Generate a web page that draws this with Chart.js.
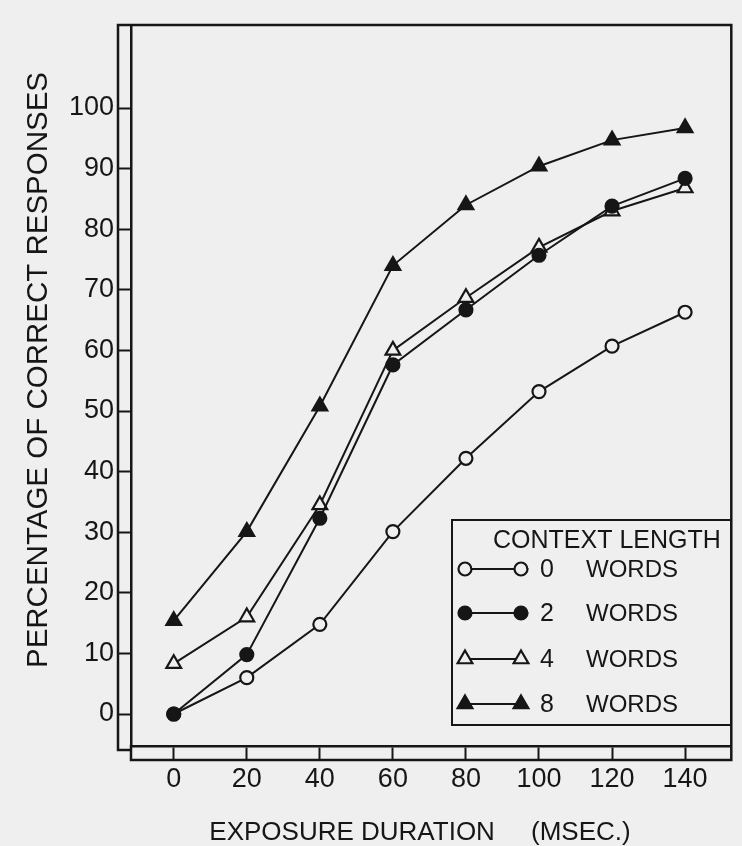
<!DOCTYPE html>
<html>
<head>
<meta charset="utf-8">
<script src="https://cdn.jsdelivr.net/npm/chart.js@4.4.1/dist/chart.umd.min.js"></script>
<style>
  html, body { margin: 0; padding: 0; background: #efefef; }
  canvas { display: block; }
</style>
</head>
<body>
<canvas id="c" width="742" height="846"></canvas>
<script>
// ---- data ----
const durations = [0, 20, 40, 60, 80, 100, 120, 140];          // exposure duration (msec)
const words0 = [0, 6.0, 14.8, 30.1, 42.2, 53.2, 60.7, 66.3];   // 0 words of context
const words2 = [0, 9.8, 32.3, 57.6, 66.7, 75.7, 83.8, 88.4];   // 2 words
const words4 = [8.3, 16.0, 34.5, 60.0, 68.7, 77.0, 83.0, 86.8]; // 4 words
const words8 = [15.4, 30.1, 50.8, 74.0, 84.0, 90.4, 94.7, 96.7]; // 8 words
const xTickValues = [0, 20, 40, 60, 80, 100, 120, 140];
const yTickValues = [0, 10, 20, 30, 40, 50, 60, 70, 80, 90, 100];
const seriesNumbers = ['0', '2', '4', '8'];
const seriesWord = 'WORDS';
const legendTitle = 'CONTEXT LENGTH';
const xTitle = 'EXPOSURE DURATION     (MSEC.)';
const yTitle = 'PERCENTAGE OF CORRECT RESPONSES';

// ---- styling ----
const INK = '#161616';
const BG = '#efefef';
const FONT = '"Liberation Sans", Arial, Helvetica, sans-serif';
const Y_TICK_LEN = 13;
const X_TICK_LEN = 14;

function pts(values) { return durations.map((d, i) => ({ x: d, y: values[i] })); }

function series(label, values, style, radius, filled, order) {
  return {
    label: label,
    data: pts(values),
    borderColor: INK,
    borderWidth: 2,
    pointStyle: style,
    pointRadius: radius,
    pointHoverRadius: radius,
    pointBorderWidth: 2.2,
    pointBorderColor: INK,
    pointBackgroundColor: filled ? INK : BG,
    tension: 0,
    fill: false,
    order: order,
    clip: false
  };
}

const datasets = [
  series(seriesNumbers[0] + ' ' + seriesWord, words0, 'circle', 6.5, false, 4),
  series(seriesNumbers[1] + ' ' + seriesWord, words2, 'circle', 6.5, true, 1),
  series(seriesNumbers[2] + ' ' + seriesWord, words4, 'triangle', 8.5, false, 3),
  series(seriesNumbers[3] + ' ' + seriesWord, words8, 'triangle', 8.5, true, 2)
];

function drawMarker(ctx, ds, x, y) {
  const r = ds.pointRadius;
  ctx.beginPath();
  if (ds.pointStyle === 'circle') {
    ctx.arc(x, y, r, 0, Math.PI * 2);
  } else {
    for (let k = 0; k < 3; k++) {
      const a = k * 2 * Math.PI / 3;
      const px = x + Math.sin(a) * r, py = y - Math.cos(a) * r;
      if (k === 0) ctx.moveTo(px, py); else ctx.lineTo(px, py);
    }
    ctx.closePath();
  }
  ctx.fillStyle = ds.pointBackgroundColor;
  ctx.fill();
  ctx.lineWidth = ds.pointBorderWidth;
  ctx.strokeStyle = ds.pointBorderColor;
  ctx.stroke();
}

const framePlugin = {
  id: 'frame',
  beforeDraw(chart) {
    const ctx = chart.ctx;
    ctx.save();
    ctx.fillStyle = BG;
    ctx.fillRect(0, 0, chart.width, chart.height);
    ctx.restore();
  },
  afterDraw(chart) {
    const ctx = chart.ctx;
    const a = chart.chartArea;
    const outer = a.left - Y_TICK_LEN;
    const lower = a.bottom + X_TICK_LEN;
    ctx.save();
    ctx.strokeStyle = INK;
    ctx.lineWidth = 2.5;
    ctx.lineCap = 'square';
    ctx.beginPath();
    // top and right border
    ctx.moveTo(outer, a.top); ctx.lineTo(a.right, a.top); ctx.lineTo(a.right, lower);
    // outer line of the left ruler
    ctx.moveTo(outer, a.top); ctx.lineTo(outer, a.bottom + 4); ctx.lineTo(a.left, a.bottom + 4);
    // lower line of the bottom ruler
    ctx.moveTo(a.left, a.bottom); ctx.lineTo(a.left, lower); ctx.lineTo(a.right, lower);
    ctx.stroke();

    // axis titles
    ctx.fillStyle = INK;
    ctx.textBaseline = 'middle';
    ctx.textAlign = 'center';
    ctx.font = '26px ' + FONT;
    ctx.fillText(xTitle, 420, 833);
    ctx.save();
    ctx.translate(39, 370);
    ctx.rotate(-Math.PI / 2);
    ctx.font = '29.5px ' + FONT;
    ctx.fillText(yTitle, 0, 0);
    ctx.restore();

    // legend
    const box = { l: 452, t: 520, r: 731, b: 725 };
    ctx.lineWidth = 2;
    ctx.strokeRect(box.l, box.t, box.r - box.l, box.b - box.t);
    ctx.textAlign = 'left';
    ctx.font = '25px ' + FONT;
    ctx.fillText(legendTitle, 493, 541);
    const rowY = [569, 613, 659, 704];
    const m1 = 465, m2 = 521;
    chart.data.datasets.forEach((ds, i) => {
      const y = rowY[i];
      ctx.beginPath();
      ctx.moveTo(m1, y); ctx.lineTo(m2, y);
      ctx.lineWidth = ds.borderWidth;
      ctx.strokeStyle = ds.borderColor;
      ctx.stroke();
      drawMarker(ctx, ds, m1, y);
      drawMarker(ctx, ds, m2, y);
      ctx.fillStyle = INK;
      ctx.font = '25px ' + FONT;
      ctx.fillText(seriesNumbers[i], 540, y + 1);
      ctx.font = '24px ' + FONT;
      ctx.fillText(seriesWord, 586, y + 1);
    });
    ctx.restore();
  }
};

new Chart(document.getElementById('c'), {
  type: 'line',
  data: { datasets: datasets },
  options: {
    responsive: false,
    animation: false,
    events: [],
    layout: { padding: { left: 0, right: 7, top: 25, bottom: 0 } },
    plugins: { legend: { display: false }, tooltip: { enabled: false }, title: { display: false } },
    scales: {
      x: {
        type: 'linear',
        min: -11.7,
        max: 152.65,
        afterBuildTicks: s => { s.ticks = xTickValues.map(v => ({ value: v })); },
        afterFit: s => { s.height = 100; },
        grid: { drawOnChartArea: false, drawTicks: true, tickLength: X_TICK_LEN, tickWidth: 2, tickColor: INK },
        border: { display: true, color: INK, width: 2.5 },
        ticks: { font: { family: FONT, size: 27 }, color: INK, padding: 3, maxRotation: 0, autoSkip: false, callback: v => String(v) }
      },
      y: {
        type: 'linear',
        min: -5.28,
        max: 113.7,
        afterBuildTicks: s => { s.ticks = yTickValues.map(v => ({ value: v })); },
        afterFit: s => { s.width = 131; },
        grid: { drawOnChartArea: false, drawTicks: true, tickLength: Y_TICK_LEN, tickWidth: 2, tickColor: INK },
        border: { display: true, color: INK, width: 2.5 },
        ticks: { font: { family: FONT, size: 27 }, color: INK, padding: 4, autoSkip: false, callback: v => String(v) }
      }
    }
  },
  plugins: [framePlugin]
});
</script>
</body>
</html>
